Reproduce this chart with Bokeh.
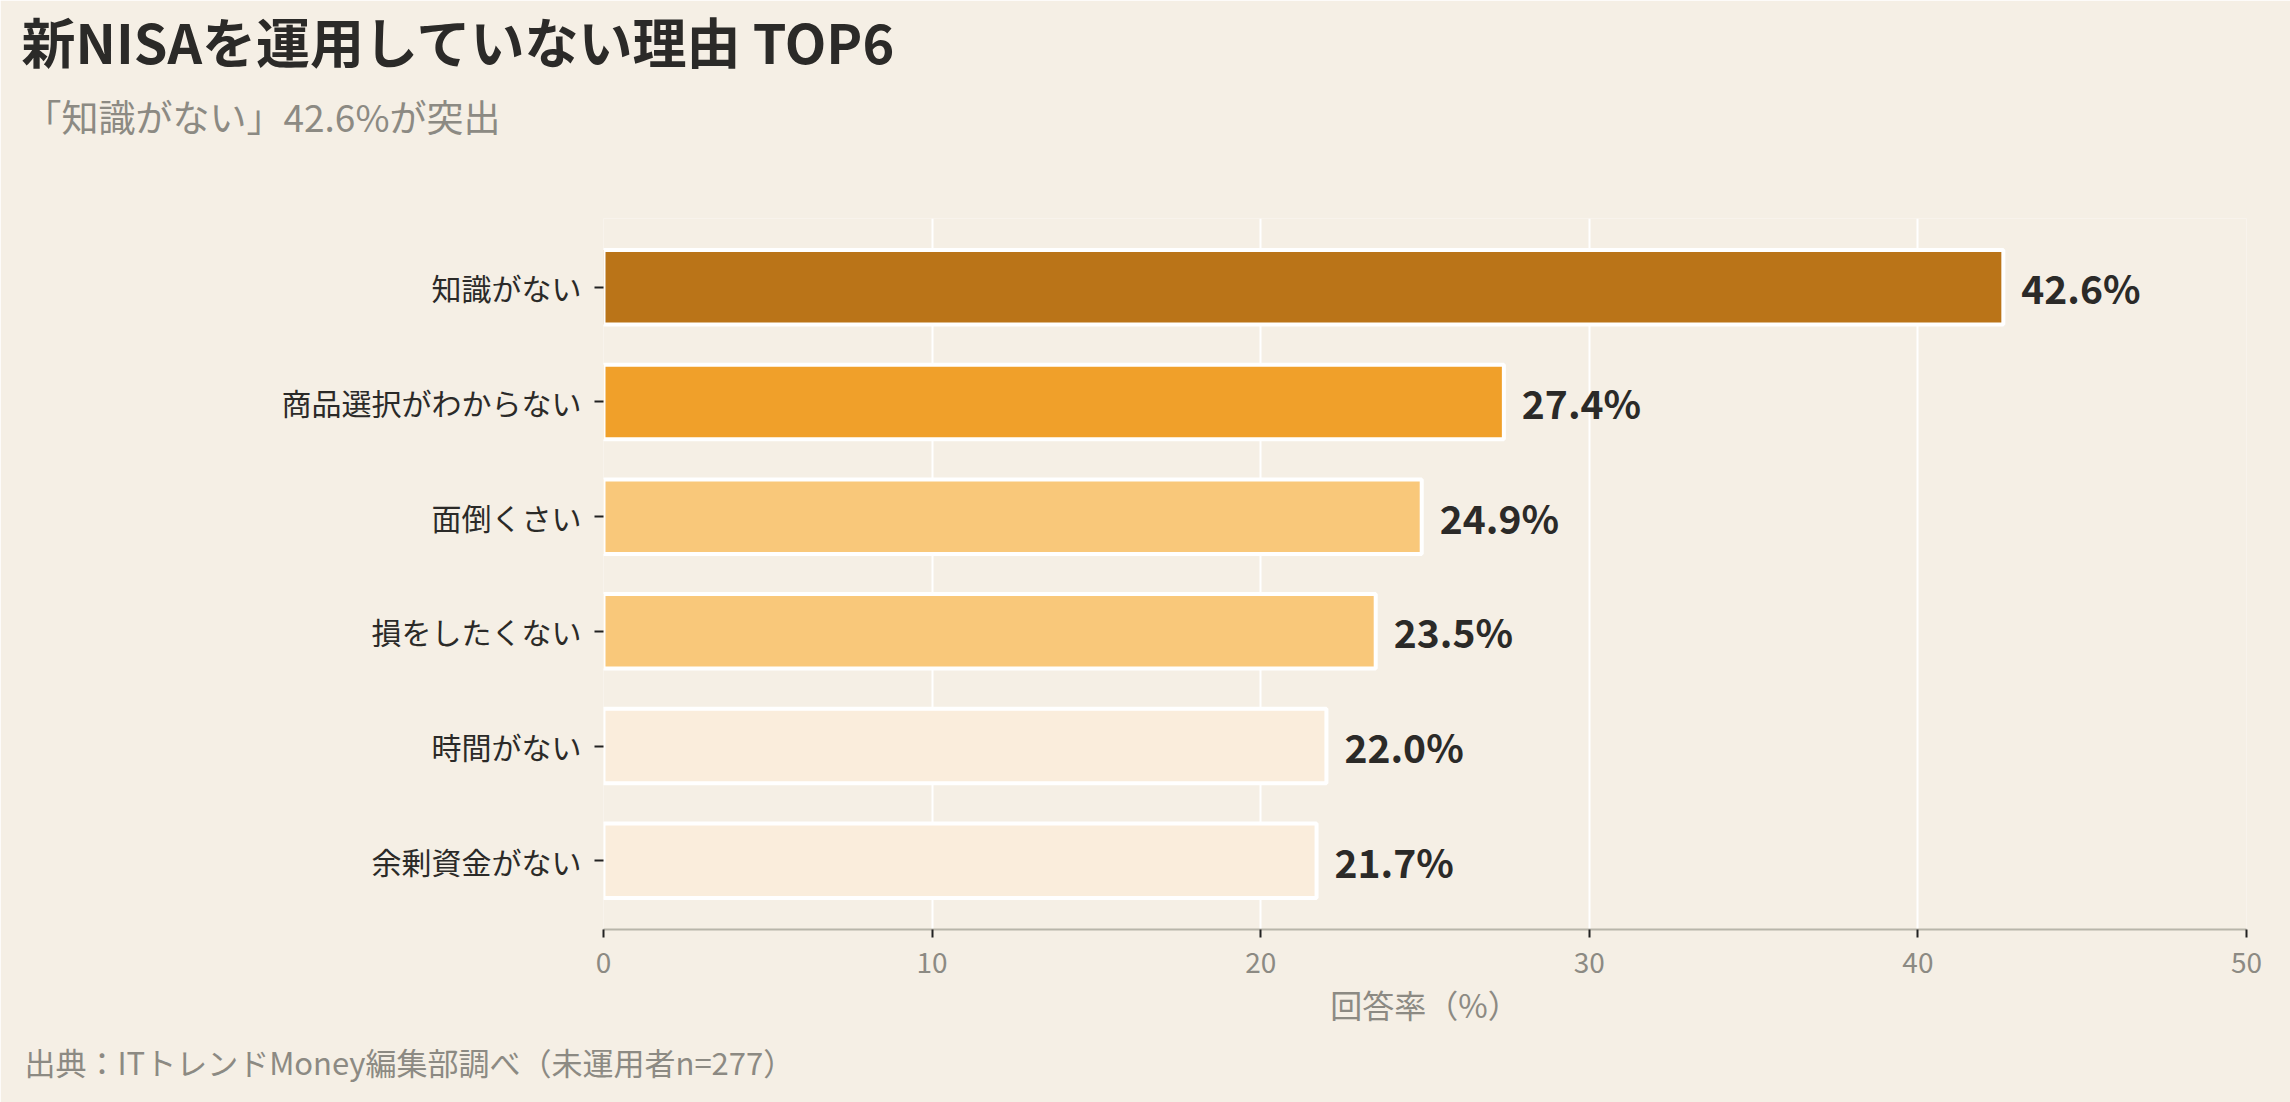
from bokeh.plotting import figure
from bokeh.models import ColumnDataSource, FactorRange, Range1d, Title
from bokeh.core.properties import value
from bokeh.embed import file_html
from bokeh.resources import INLINE

categories = ["知識がない", "商品選択がわからない", "面倒くさい", "損をしたくない", "時間がない", "余剰資金がない"]
values = [42.6, 27.4, 24.9, 23.5, 22.0, 21.7]
bar_colors = ["#BA7418", "#F0A02A", "#F9C87A", "#F9C87A", "#FAEDDC", "#FAEDDC"]
x_ticks = [0, 10, 20, 30, 40, 50]

title_text = "新NISAを運用していない理由 TOP6"
subtitle_text = "「知識がない」42.6%が突出"
xlabel_text = "回答率（%）"
footer_text = "出典：ITトレンドMoney編集部調べ（未運用者n=277）"

BG = "#F5EFE5"
FONT = "Noto Sans CJK JP"
DARK = "#2B2A28"
GRAY = "#8C8A83"

src = ColumnDataSource(dict(
    cat=categories,
    val=values,
    color=bar_colors,
    lbl=[f"{v:.1f}%" for v in values],
))

p = figure(
    width=2290, height=1102,
    y_range=FactorRange(factors=list(reversed(categories)), range_padding=0.1, range_padding_units="absolute"),
    x_range=Range1d(0, 50),
    output_backend="svg", toolbar_location=None,
    min_border_left=603, min_border_right=44, min_border_top=216, min_border_bottom=173,
)
p.background_fill_color = BG
p.border_fill_color = BG
p.outline_line_color = None

p.hbar(y="cat", right="val", left=0, height=0.65, fill_color="color",
       line_color="white", line_width=4, source=src)

p.text(x="val", y="cat", text="lbl", source=src, x_offset=18,
       text_baseline="middle", text_align="left",
       text_font=value(FONT), text_font_size="39px", text_font_style="bold",
       text_color=DARK)

# grids
p.ygrid.grid_line_color = None
p.xgrid.grid_line_color = "white"
p.xgrid.grid_line_width = 2
p.xgrid.ticker = x_ticks

# x axis
p.xaxis.ticker = x_ticks
p.xaxis.axis_line_color = "#B8B5AA"
p.xaxis.axis_line_width = 2
p.xaxis.major_tick_line_color = "#222222"
p.xaxis.major_tick_line_width = 2
p.xaxis.major_tick_out = 8
p.xaxis.major_tick_in = 0
p.xaxis.minor_tick_line_color = None
p.xaxis.major_label_text_font = FONT
p.xaxis.major_label_text_font_size = "28px"
p.xaxis.major_label_text_color = GRAY
p.xaxis.major_label_standoff = 14
p.xaxis.axis_label = xlabel_text
p.xaxis.axis_label_text_font = FONT
p.xaxis.axis_label_text_font_size = "32px"
p.xaxis.axis_label_text_font_style = "normal"
p.xaxis.axis_label_text_color = GRAY
p.xaxis.axis_label_standoff = 5

# y axis
p.yaxis.axis_line_color = None
p.yaxis.major_tick_line_color = "#222222"
p.yaxis.major_tick_line_width = 2
p.yaxis.major_tick_out = 9
p.yaxis.major_tick_in = 0
p.yaxis.minor_tick_line_color = None
p.yaxis.major_label_text_font = FONT
p.yaxis.major_label_text_font_size = "30px"
p.yaxis.major_label_text_color = DARK
p.yaxis.major_label_standoff = 13

# "above" panels: first added sits nearest the frame
p.add_layout(Title(text="\u00a0", align="left", offset=0, standoff=53,
                   text_font=FONT, text_font_size="10px", text_color=BG), "above")
p.add_layout(Title(text=subtitle_text, align="left", offset=24 - 603, standoff=11,
                   text_font=FONT, text_font_size="37px", text_font_style="normal",
                   text_color=GRAY), "above")
p.add_layout(Title(text=title_text, align="left", offset=21 - 603, standoff=0,
                   vertical_align="top",
                   text_font=FONT, text_font_size="54px", text_font_style="bold",
                   text_color=DARK), "above")
p.add_layout(Title(text=footer_text, align="left", offset=24 - 603, standoff=14,
                   text_font=FONT, text_font_size="31px", text_font_style="normal",
                   text_color=GRAY), "below")

open("out.html", "w").write(file_html(p, INLINE))
